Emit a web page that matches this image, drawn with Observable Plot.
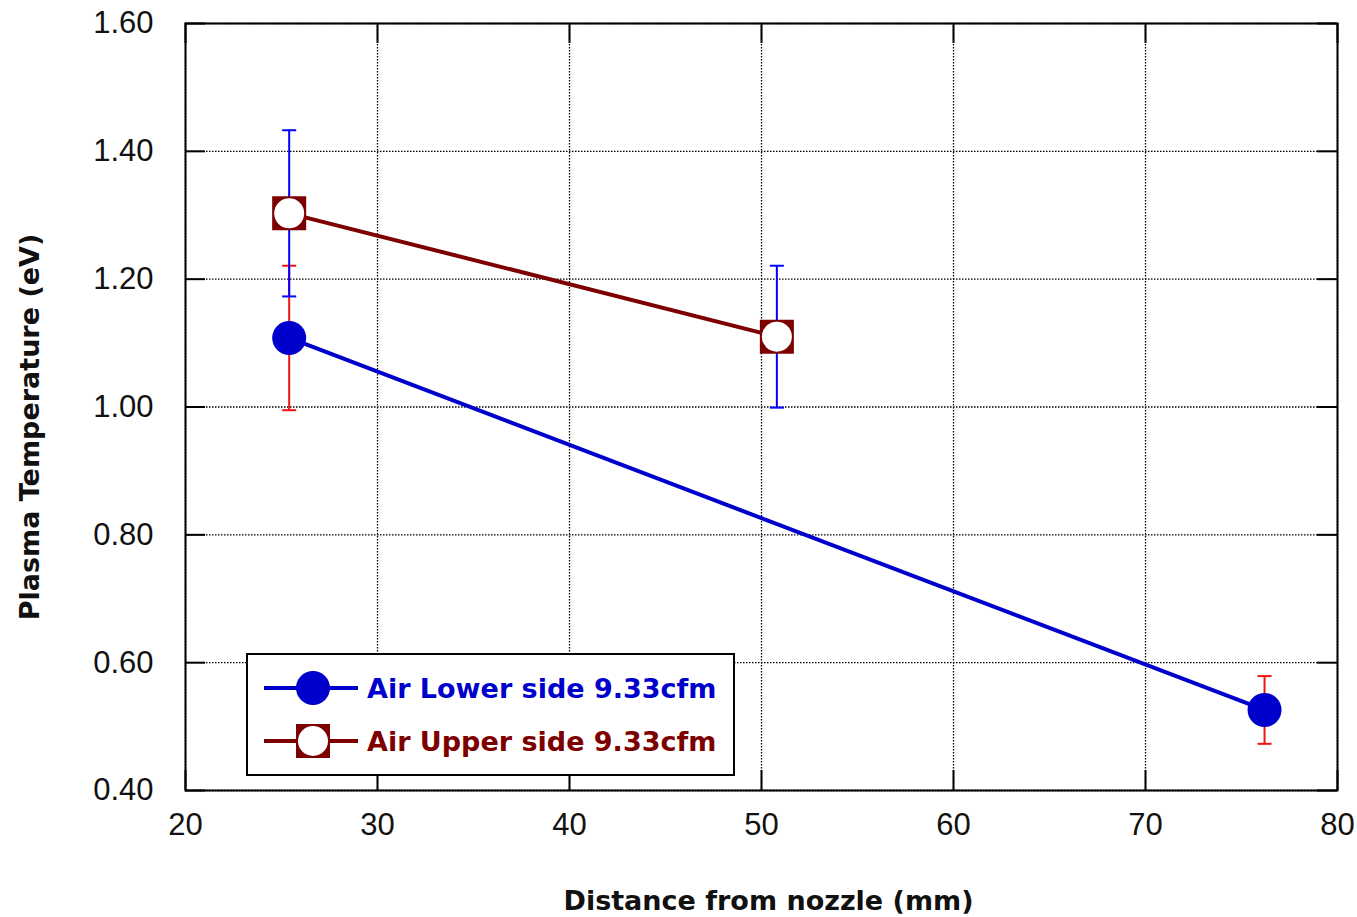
<!DOCTYPE html>
<html>
<head>
<meta charset="utf-8">
<script src="https://cdn.jsdelivr.net/npm/d3@7"></script>
<script src="https://cdn.jsdelivr.net/npm/@observablehq/plot@0.6"></script>
<style>
  html, body { margin: 0; padding: 0; background: #fff; }
</style>
</head>
<body>
<div id="chart"></div>
<script>
// Plasma temperature vs. distance from nozzle, two air-flow sides
const lowerX = [25.4, 76.2];
const lowerY = [1.108, 0.526];
const lowerErr = [0.113, 0.053];

const upperX = [25.4, 50.8];
const upperY = [1.303, 1.11];
const upperErr = [0.13, 0.111];

const seriesNames = ["Air Lower side 9.33cfm", "Air Upper side 9.33cfm"];
const xTicks = [20, 30, 40, 50, 60, 70, 80];
const yTicks = [0.4, 0.6, 0.8, 1.0, 1.2, 1.4, 1.6];
const xTitle = "Distance from nozzle (mm)";
const yTitle = "Plasma Temperature (eV)";

const lower = lowerX.map((x, i) => ({x, y: lowerY[i], lo: lowerY[i] - lowerErr[i], hi: lowerY[i] + lowerErr[i]}));
const upper = upperX.map((x, i) => ({x, y: upperY[i], lo: upperY[i] - upperErr[i], hi: upperY[i] + upperErr[i]}));

const BLUE = "#0000cc", DARKRED = "#7d0000";
const BAR_BLUE = "#0000ff", BAR_RED = "#f01414";

// horizontal cap symbol for error bars
const capSymbol = {
  draw(ctx, size) {
    const w = Math.sqrt(size / Math.PI);
    ctx.moveTo(-w, 0);
    ctx.lineTo(w, 0);
  }
};
const caps = d => [...d.map(p => ({x: p.x, y: p.lo})), ...d.map(p => ({x: p.x, y: p.hi}))];

const W = 1357, H = 917;
const mL = 185, mR = 20, mT = 23, mB = 127;
const fw = W - mL - mR, fh = H - mT - mB, tickLen = 20;

const chart = Plot.plot({
  width: W,
  height: H,
  marginLeft: mL,
  marginRight: mR,
  marginTop: mT,
  marginBottom: mB,
  style: {fontFamily: "'Liberation Sans', Arial, sans-serif", fontSize: "31px", color: "#111", background: "#fff"},
  x: {domain: [20, 80]},
  y: {domain: [0.4, 1.6]},
  marks: [
    Plot.gridX(xTicks, {stroke: "#000", strokeOpacity: 1, strokeWidth: 1.3, strokeDasharray: "1.5,1.5"}),
    Plot.gridY(yTicks, {stroke: "#000", strokeOpacity: 1, strokeWidth: 1.3, strokeDasharray: "1.5,1.5"}),
    // inward ticks on all four sides
    Plot.tickY(yTicks, {y: d => d, stroke: "#000", strokeWidth: 2, insetRight: fw - tickLen}),
    Plot.tickY(yTicks, {y: d => d, stroke: "#000", strokeWidth: 2, insetLeft: fw - tickLen}),
    Plot.tickX(xTicks, {x: d => d, stroke: "#000", strokeWidth: 2, insetTop: fh - tickLen}),
    Plot.tickX(xTicks, {x: d => d, stroke: "#000", strokeWidth: 2, insetBottom: fh - tickLen}),
    Plot.frame({stroke: "#000", strokeWidth: 2}),
    Plot.axisX(xTicks, {tickSize: 0, tickPadding: 22, tickFormat: d => d, label: null}),
    Plot.axisY(yTicks, {tickSize: 0, tickPadding: 32, tickFormat: d3.format(".2f"), label: null}),
    // series lines
    Plot.line(lower, {x: "x", y: "y", stroke: BLUE, strokeWidth: 4}),
    Plot.line(upper, {x: "x", y: "y", stroke: DARKRED, strokeWidth: 4}),
    // error bars (lower series red, upper series blue)
    Plot.ruleX(lower, {x: "x", y1: "lo", y2: "hi", stroke: BAR_RED, strokeWidth: 2}),
    Plot.dot(caps(lower), {x: "x", y: "y", symbol: capSymbol, r: 7, stroke: BAR_RED, strokeWidth: 2, fill: "none"}),
    Plot.ruleX(upper, {x: "x", y1: "lo", y2: "hi", stroke: BAR_BLUE, strokeWidth: 2}),
    Plot.dot(caps(upper), {x: "x", y: "y", symbol: capSymbol, r: 7, stroke: BAR_BLUE, strokeWidth: 2, fill: "none"}),
    // markers
    Plot.dot(lower, {x: "x", y: "y", r: 17, fill: BLUE, stroke: "none"}),
    Plot.dot(upper, {x: "x", y: "y", r: 19.2, symbol: "square", fill: DARKRED, stroke: "none"}),
    Plot.dot(upper, {x: "x", y: "y", r: 15, fill: "#fff", stroke: "none"}),
    // axis titles
    Plot.text([xTitle], {frameAnchor: "bottom", dx: 7, dy: 119, text: d => d, fontWeight: "bold", fontSize: 27, fontFamily: "'DejaVu Sans', sans-serif", fill: "#111"}),
    Plot.text([yTitle], {frameAnchor: "left", textAnchor: "middle", dx: -155, dy: 20, rotate: -90, text: d => d, fontWeight: "bold", fontSize: 27, fontFamily: "'DejaVu Sans', sans-serif", fill: "#111"})
  ]
});

// legend box inside the plot area
const svg = d3.select(chart);
const lg = svg.append("g")
  .attr("font-family", "'DejaVu Sans', sans-serif")
  .attr("font-weight", "bold")
  .attr("font-size", 27)
  .attr("text-anchor", "start");
lg.append("rect").attr("x", 247).attr("y", 654).attr("width", 487).attr("height", 121)
  .attr("fill", "#fff").attr("stroke", "#000").attr("stroke-width", 2);
const rows = [
  {y: 688, color: BLUE, kind: "circle", name: seriesNames[0]},
  {y: 741, color: DARKRED, kind: "square", name: seriesNames[1]}
];
for (const r of rows) {
  lg.append("line").attr("x1", 264).attr("x2", 358).attr("y1", r.y).attr("y2", r.y)
    .attr("stroke", r.color).attr("stroke-width", 4);
  if (r.kind === "circle") {
    lg.append("circle").attr("cx", 313).attr("cy", r.y).attr("r", 17).attr("fill", r.color);
  } else {
    lg.append("rect").attr("x", 296).attr("y", r.y - 17).attr("width", 34).attr("height", 34).attr("fill", r.color);
    lg.append("circle").attr("cx", 313).attr("cy", r.y).attr("r", 15).attr("fill", "#fff");
  }
  lg.append("text").attr("x", 367).attr("y", r.y).attr("dy", "0.36em").attr("fill", r.color).text(r.name);
}

document.getElementById("chart").appendChild(chart);
</script>
</body>
</html>
